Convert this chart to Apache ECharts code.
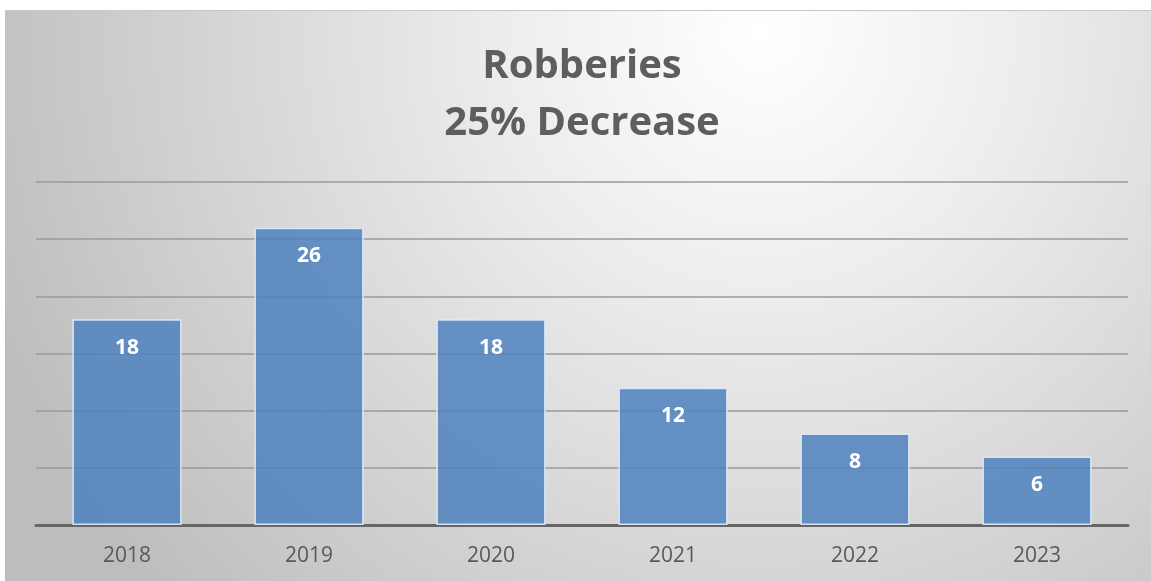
<!DOCTYPE html>
<html>
<head>
<meta charset="utf-8">
<script src="https://cdn.jsdelivr.net/npm/echarts@6/dist/echarts.min.js"></script>
<style>
  html, body { margin: 0; padding: 0; background: #ffffff; }
  #chart {
    position: absolute; left: 5px; top: 10px;
    width: 1146px; height: 571px;
    border-top: 1px solid #c8c8c8;
    box-sizing: border-box;
  }
</style>
</head>
<body>
<div id="chart"></div>
<script>
// Robberies per year
const years = ['2018', '2019', '2020', '2021', '2022', '2023'];
const robberies = [18, 26, 18, 12, 8, 6];
const titleText = 'Robberies\n25% Decrease';

const chart = echarts.init(document.getElementById('chart'), null, { renderer: 'canvas' });

chart.setOption({
  backgroundColor: {
    type: 'radial', x: 0.66, y: 0.04, r: 1.45,
    colorStops: [
      { offset: 0, color: '#ffffff' },
      { offset: 0.33, color: '#ececec' },
      { offset: 1, color: '#bdbdbd' }
    ]
  },
  title: {
    text: titleText,
    left: 572, top: 22,
    textAlign: 'center',
    textStyle: {
      fontFamily: 'Open Sans', fontWeight: 'bold', fontSize: 40,
      lineHeight: 57, color: '#5e5e5e'
    }
  },
  grid: { left: 31, right: 23, top: 171, bottom: 56 },
  xAxis: {
    type: 'category',
    data: years,
    axisTick: { show: false },
    axisLine: { lineStyle: { color: '#666666', width: 3 } },
    axisLabel: {
      margin: 21, fontFamily: 'Open Sans', fontSize: 21, color: '#595959'
    }
  },
  yAxis: {
    type: 'value', min: 0, max: 30, interval: 5,
    axisLabel: { show: false },
    axisLine: { show: false },
    axisTick: { show: false },
    splitLine: { lineStyle: { color: '#9a9a9a', width: 1.5 } }
  },
  series: [{
    type: 'bar',
    data: robberies,
    barWidth: '60%',
    itemStyle: {
      color: 'rgba(79,129,189,0.85)',
      borderColor: 'rgba(225,235,248,0.9)',
      borderWidth: 1.5
    },
    label: {
      show: true, position: 'insideTop', distance: 18,
      fontFamily: 'Open Sans', fontWeight: 'bold', fontSize: 21, color: '#ffffff'
    }
  }]
});
</script>
</body>
</html>
